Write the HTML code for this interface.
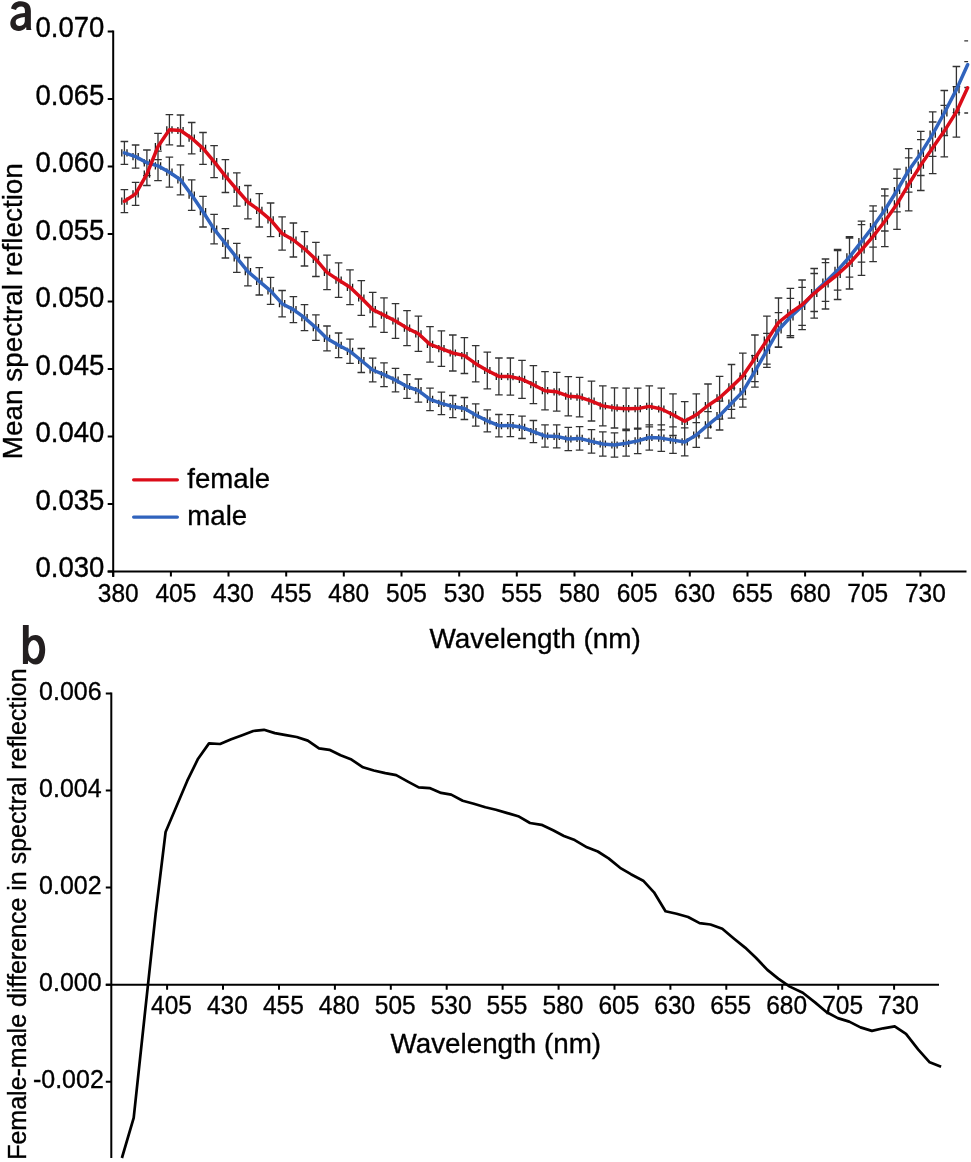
<!DOCTYPE html><html><head><meta charset="utf-8"><style>
html,body{margin:0;padding:0;background:#fff;width:971px;height:1162px;overflow:hidden}
svg{position:absolute;left:0;top:0;display:block;will-change:transform}
text{font-family:"Liberation Sans", sans-serif;fill:#000;stroke:#000;stroke-width:0.35px}
</style></head><body>
<svg width="971" height="1162" viewBox="0 0 971 1162">
<g stroke="#000" stroke-width="2" fill="none">
<path d="M113.2 30.5V577.1M107.7 571.6H966.5"/>
<path d="M107.7 31.5H113.2M107.7 99H113.2M107.7 166.5H113.2M107.7 234H113.2M107.7 301.6H113.2M107.7 369.1H113.2M107.7 436.6H113.2M107.7 504.1H113.2M107.7 571.6H113.2"/>
<path d="M113.2 571.6V576.6M170.9 571.6V576.6M228.5 571.6V576.6M286.2 571.6V576.6M343.8 571.6V576.6M401.5 571.6V576.6M459.2 571.6V576.6M516.8 571.6V576.6M574.5 571.6V576.6M632.1 571.6V576.6M689.8 571.6V576.6M747.5 571.6V576.6M805.1 571.6V576.6M862.8 571.6V576.6M920.4 571.6V576.6"/>
</g>
<text transform="translate(104.3 37.1) scale(1.0 1.045)" text-anchor="end" font-size="27.5">0.070</text>
<text transform="translate(104.3 104.6) scale(1.0 1.045)" text-anchor="end" font-size="27.5">0.065</text>
<text transform="translate(104.3 172.1) scale(1.0 1.045)" text-anchor="end" font-size="27.5">0.060</text>
<text transform="translate(104.3 239.6) scale(1.0 1.045)" text-anchor="end" font-size="27.5">0.055</text>
<text transform="translate(104.3 307.2) scale(1.0 1.045)" text-anchor="end" font-size="27.5">0.050</text>
<text transform="translate(104.3 374.7) scale(1.0 1.045)" text-anchor="end" font-size="27.5">0.045</text>
<text transform="translate(104.3 442.2) scale(1.0 1.045)" text-anchor="end" font-size="27.5">0.040</text>
<text transform="translate(104.3 509.7) scale(1.0 1.045)" text-anchor="end" font-size="27.5">0.035</text>
<text transform="translate(104.3 577.2) scale(1.0 1.045)" text-anchor="end" font-size="27.5">0.030</text>
<text transform="translate(118.2 601.5) scale(1.0 1.045)" text-anchor="middle" font-size="24.5">380</text>
<text transform="translate(175.9 601.5) scale(1.0 1.045)" text-anchor="middle" font-size="24.5">405</text>
<text transform="translate(233.5 601.5) scale(1.0 1.045)" text-anchor="middle" font-size="24.5">430</text>
<text transform="translate(291.2 601.5) scale(1.0 1.045)" text-anchor="middle" font-size="24.5">455</text>
<text transform="translate(348.8 601.5) scale(1.0 1.045)" text-anchor="middle" font-size="24.5">480</text>
<text transform="translate(406.5 601.5) scale(1.0 1.045)" text-anchor="middle" font-size="24.5">505</text>
<text transform="translate(464.2 601.5) scale(1.0 1.045)" text-anchor="middle" font-size="24.5">530</text>
<text transform="translate(521.8 601.5) scale(1.0 1.045)" text-anchor="middle" font-size="24.5">555</text>
<text transform="translate(579.5 601.5) scale(1.0 1.045)" text-anchor="middle" font-size="24.5">580</text>
<text transform="translate(637.1 601.5) scale(1.0 1.045)" text-anchor="middle" font-size="24.5">605</text>
<text transform="translate(694.8 601.5) scale(1.0 1.045)" text-anchor="middle" font-size="24.5">630</text>
<text transform="translate(752.5 601.5) scale(1.0 1.045)" text-anchor="middle" font-size="24.5">655</text>
<text transform="translate(810.1 601.5) scale(1.0 1.045)" text-anchor="middle" font-size="24.5">680</text>
<text transform="translate(867.8 601.5) scale(1.0 1.045)" text-anchor="middle" font-size="24.5">705</text>
<text transform="translate(925.4 601.5) scale(1.0 1.045)" text-anchor="middle" font-size="24.5">730</text>
<text transform="translate(535.2 647.8) scale(1 1)" text-anchor="middle" font-size="27.9">Wavelength (nm)</text>
<text transform="translate(22.0 311.2) rotate(-90) scale(1 1)" text-anchor="middle" font-size="27.9">Mean spectral reflection</text>
<path d="M133.6 479.8H177.4" stroke="#db0c18" stroke-width="3.2" stroke-linecap="round"/>
<path d="M133.6 517.1H177.4" stroke="#3063bd" stroke-width="3.2" stroke-linecap="round"/>
<text transform="translate(187.3 487.9) scale(1 1)" font-size="27.6">female</text>
<text transform="translate(187.3 525.2) scale(1 1)" font-size="27.6">male</text>
<path d="M124.4 189.7V212.7M120.6 189.7H128.2M120.6 212.7H128.2M124.4 141.5V164.3M120.6 141.5H128.2M120.6 164.3H128.2M135.6 182.4V205.4M131.8 182.4H139.4M131.8 205.4H139.4M135.6 145V168.2M131.8 145H139.4M131.8 168.2H139.4M146.9 162.9V185.5M143.1 162.9H150.7M143.1 185.5H150.7M146.9 150V175.6M143.1 150H150.7M143.1 175.6H150.7M158 133.3V159.7M154.2 133.3H161.8M154.2 159.7H161.8M158 151.2V180.6M154.2 151.2H161.8M154.2 180.6H161.8M169.4 114.7V144.9M165.6 114.7H173.2M165.6 144.9H173.2M169.4 157.2V187.2M165.6 157.2H173.2M165.6 187.2H173.2M180.5 115V146M176.7 115H184.3M176.7 146H184.3M180.5 164.8V194.8M176.7 164.8H184.3M176.7 194.8H184.3M191.7 122.5V153.9M187.9 122.5H195.5M187.9 153.9H195.5M191.7 179.8V210.4M187.9 179.8H195.5M187.9 210.4H195.5M203 132.5V164.3M199.2 132.5H206.8M199.2 164.3H206.8M203 196.4V227M199.2 196.4H206.8M199.2 227H206.8M214.1 145.7V177.7M210.3 145.7H217.9M210.3 177.7H217.9M214.1 214.4V243.8M210.3 214.4H217.9M210.3 243.8H217.9M225.4 159.7V192.5M221.6 159.7H229.2M221.6 192.5H229.2M225.4 228.6V258M221.6 228.6H229.2M221.6 258H229.2M236.8 172.8V206.2M233 172.8H240.6M233 206.2H240.6M236.8 243.3V272.3M233 243.3H240.6M233 272.3H240.6M247.9 185.5V218.9M244.1 185.5H251.7M244.1 218.9H251.7M247.9 257.5V285.9M244.1 257.5H251.7M244.1 285.9H251.7M259.3 193.6V227M255.5 193.6H263.1M255.5 227H263.1M259.3 267.6V295M255.5 267.6H263.1M255.5 295H263.1M270.6 203V236.6M266.8 203H274.4M266.8 236.6H274.4M270.6 277.3V304.3M266.8 277.3H274.4M266.8 304.3H274.4M282.1 216.8V250.2M278.3 216.8H285.9M278.3 250.2H285.9M282.1 290.5V316.9M278.3 290.5H285.9M278.3 316.9H285.9M293.4 223V257M289.6 223H297.2M289.6 257H297.2M293.4 296.6V322.6M289.6 296.6H297.2M289.6 322.6H297.2M304.5 231.6V266M300.7 231.6H308.3M300.7 266H308.3M304.5 304.7V330.7M300.7 304.7H308.3M300.7 330.7H308.3M315.9 242.3V276.5M312.1 242.3H319.7M312.1 276.5H319.7M315.9 314.8V340.4M312.1 314.8H319.7M312.1 340.4H319.7M327 255.2V289.6M323.2 255.2H330.8M323.2 289.6H330.8M327 326V350.8M323.2 326H330.8M323.2 350.8H330.8M338.6 262.9V297.3M334.8 262.9H342.4M334.8 297.3H342.4M338.6 333V357.6M334.8 333H342.4M334.8 357.6H342.4M350 269.9V304.7M346.2 269.9H353.8M346.2 304.7H353.8M350 339.2V363.4M346.2 339.2H353.8M346.2 363.4H353.8M361.3 280.7V315.3M357.5 280.7H365.1M357.5 315.3H365.1M361.3 348.5V372.5M357.5 348.5H365.1M357.5 372.5H365.1M372.7 292.4V326.8M368.9 292.4H376.5M368.9 326.8H376.5M372.7 358.2V381.8M368.9 358.2H376.5M368.9 381.8H376.5M384 297.8V332.4M380.2 297.8H387.8M380.2 332.4H387.8M384 362.8V386.6M380.2 362.8H387.8M380.2 386.6H387.8M395.5 303.6V338.4M391.7 303.6H399.3M391.7 338.4H399.3M395.5 368.4V391.8M391.7 368.4H399.3M391.7 391.8H399.3M407 310.6V345.6M403.2 310.6H410.8M403.2 345.6H410.8M407 374.7V398.3M403.2 374.7H410.8M403.2 398.3H410.8M418.4 316.2V351.4M414.6 316.2H422.2M414.6 351.4H422.2M418.4 379V402.2M414.6 379H422.2M414.6 402.2H422.2M430 326.6V362.2M426.2 326.6H433.8M426.2 362.2H433.8M430 388.1V410.7M426.2 388.1H433.8M426.2 410.7H433.8M441.4 330.8V366.4M437.6 330.8H445.2M437.6 366.4H445.2M441.4 392.2V414.6M437.6 392.2H445.2M437.6 414.6H445.2M452.8 335V371M449 335H456.6M449 371H456.6M452.8 395.5V417.7M449 395.5H456.6M449 417.7H456.6M464.4 337.7V373.5M460.6 337.7H468.2M460.6 373.5H468.2M464.4 397.5V419.5M460.6 397.5H468.2M460.6 419.5H468.2M475.7 345.6V381.8M471.9 345.6H479.5M471.9 381.8H479.5M475.7 403.8V426.2M471.9 403.8H479.5M471.9 426.2H479.5M487.3 352.1V388.9M483.5 352.1H491.1M483.5 388.9H491.1M487.3 409.9V431.9M483.5 409.9H491.1M483.5 431.9H491.1M498.9 358V394.8M495.1 358H502.7M495.1 394.8H502.7M498.9 414.5V436.9M495.1 414.5H502.7M495.1 436.9H502.7M510.4 358V395.2M506.6 358H514.2M506.6 395.2H514.2M510.4 414.6V436.6M506.6 414.6H514.2M506.6 436.6H514.2M522 360.3V398.3M518.2 360.3H525.8M518.2 398.3H525.8M522 416.1V438.5M518.2 416.1H525.8M518.2 438.5H525.8M533.4 365.7V403.7M529.6 365.7H537.2M529.6 403.7H537.2M533.4 420.5V442.7M529.6 420.5H537.2M529.6 442.7H537.2M545 371.6V409.8M541.2 371.6H548.8M541.2 409.8H548.8M545 424.9V447.1M541.2 424.9H548.8M541.2 447.1H548.8M556.7 372.4V411.2M552.9 372.4H560.5M552.9 411.2H560.5M556.7 424.9V447.9M552.9 424.9H560.5M552.9 447.9H560.5M568.3 376.6V415.8M564.5 376.6H572.1M564.5 415.8H572.1M568.3 427.4V450.6M564.5 427.4H572.1M564.5 450.6H572.1M579.6 377.3V416.9M575.8 377.3H583.4M575.8 416.9H583.4M579.6 426.6V450.2M575.8 426.6H583.4M575.8 450.2H583.4M591.5 381.2V421M587.7 381.2H595.3M587.7 421H595.3M591.5 429.6V453.2M587.7 429.6H595.3M587.7 453.2H595.3M602.8 385.9V425.9M599 385.9H606.6M599 425.9H606.6M602.8 431.9V456.1M599 431.9H606.6M599 456.1H606.6M614.5 387.8V428M610.7 387.8H618.3M610.7 428H618.3M614.5 432.8V457.2M610.7 432.8H618.3M610.7 457.2H618.3M626.1 388.2V429.2M622.3 388.2H629.9M622.3 429.2H629.9M626.1 430.5V456.1M622.3 430.5H629.9M622.3 456.1H629.9M637.7 388.2V429M633.9 388.2H641.5M633.9 429H641.5M637.7 428.2V453.6M633.9 428.2H641.5M633.9 453.6H641.5M649.3 385.9V426.9M645.5 385.9H653.1M645.5 426.9H653.1M649.3 424.8V450.2M645.5 424.8H653.1M645.5 450.2H653.1M661.3 388.2V429.8M657.5 388.2H665.1M657.5 429.8H665.1M661.3 424.8V451.4M657.5 424.8H665.1M657.5 451.4H665.1M673 393.9V435.5M669.2 393.9H676.8M669.2 435.5H676.8M673 426.9V453.3M669.2 426.9H676.8M669.2 453.3H676.8M684.7 401.6V441M680.9 401.6H688.5M680.9 441H688.5M684.7 427.9V455.9M680.9 427.9H688.5M680.9 455.9H688.5M696.3 393.8V435.8M692.5 393.8H700.1M692.5 435.8H700.1M696.3 422.6V447.4M692.5 422.6H700.1M692.5 447.4H700.1M708 384V427M704.2 384H711.8M704.2 427H711.8M708 411.7V438.1M704.2 411.7H711.8M704.2 438.1H711.8M719.6 376.4V419.2M715.8 376.4H723.4M715.8 419.2H723.4M719.6 401.2V430M715.8 401.2H723.4M715.8 430H723.4M731.5 364.5V409.3M727.7 364.5H735.3M727.7 409.3H735.3M731.5 388.2V418.2M727.7 388.2H735.3M727.7 418.2H735.3M742.8 353.1V399.1M739 353.1H746.6M739 399.1H746.6M742.8 376.1V407.1M739 376.1H746.6M739 407.1H746.6M754.9 335V381.6M751.1 335H758.7M751.1 381.6H758.7M754.9 355.6V387.2M751.1 355.6H758.7M751.1 387.2H758.7M766.9 316.2V364.2M763.1 316.2H770.7M763.1 364.2H770.7M766.9 333.3V367.3M763.1 333.3H770.7M763.1 367.3H770.7M778.5 298V347M774.7 298H782.3M774.7 347H782.3M778.5 312.7V347.3M774.7 312.7H782.3M774.7 347.3H782.3M790.4 288.3V337.5M786.6 288.3H794.2M786.6 337.5H794.2M790.4 298.4V335.6M786.6 298.4H794.2M786.6 335.6H794.2M802.1 280V329.6M798.3 280H805.9M798.3 329.6H805.9M802.1 287.3V325.3M798.3 287.3H805.9M798.3 325.3H805.9M814.2 268.5V318.1M810.4 268.5H818M810.4 318.1H818M814.2 273.5V311.5M810.4 273.5H818M810.4 311.5H818M825.5 259V309M821.7 259H829.3M821.7 309H829.3M825.5 262.6V301.4M821.7 262.6H829.3M821.7 301.4H829.3M837.6 249.5V299.5M833.8 249.5H841.4M833.8 299.5H841.4M837.6 250.5V290.1M833.8 250.5H841.4M833.8 290.1H841.4M849.5 238V289M845.7 238H853.3M845.7 289H853.3M849.5 236.7V277.1M845.7 236.7H853.3M845.7 277.1H853.3M861.5 224.7V275.3M857.7 224.7H865.3M857.7 275.3H865.3M861.5 221.1V262.1M857.7 221.1H865.3M857.7 262.1H865.3M873.1 211.1V261.7M869.3 211.1H876.9M869.3 261.7H876.9M873.1 205.8V247.2M869.3 205.8H876.9M869.3 247.2H876.9M884.8 195.8V246.6M881 195.8H888.6M881 246.6H888.6M884.8 189V231M881 189H888.6M881 231H888.6M897 178.4V229.4M893.2 178.4H900.8M893.2 229.4H900.8M897 169.2V211.8M893.2 169.2H900.8M893.2 211.8H900.8M908.7 157.8V210.8M904.9 157.8H912.5M904.9 210.8H912.5M908.7 148.7V192.1M904.9 148.7H912.5M904.9 192.1H912.5M920.8 139.7V190.5M917 139.7H924.6M917 190.5H924.6M920.8 131.3V175.5M917 131.3H924.6M917 175.5H924.6M932.7 122V173.6M928.9 122H936.5M928.9 173.6H936.5M932.7 111.8V156.4M928.9 111.8H936.5M928.9 156.4H936.5M944.3 105.3V156.9M940.5 105.3H948.1M940.5 156.9H948.1M944.3 90.5V135.5M940.5 90.5H948.1M940.5 135.5H948.1M956.4 86.7V137.1M952.6 86.7H960.2M952.6 137.1H960.2M956.4 66.5V112.7M952.6 66.5H960.2M952.6 112.7H960.2M964.3 61.6H968.1M964.3 113H968.1M964.3 40.9H968.1M964.3 87.5H968.1" stroke="#333" stroke-width="1.3" fill="none"/>
<path d="M121.8 197.6V204.8M127 197.6V204.8M121.8 149.3V156.5M127 149.3V156.5M133 190.3V197.5M138.2 190.3V197.5M133 153V160.2M138.2 153V160.2M144.3 170.6V177.8M149.5 170.6V177.8M144.3 159.2V166.4M149.5 159.2V166.4M155.4 142.9V150.1M160.6 142.9V150.1M155.4 162.3V169.5M160.6 162.3V169.5M166.8 126.2V133.4M172 126.2V133.4M166.8 168.6V175.8M172 168.6V175.8M177.9 126.9V134.1M183.1 126.9V134.1M177.9 176.2V183.4M183.1 176.2V183.4M189.1 134.6V141.8M194.3 134.6V141.8M189.1 191.5V198.7M194.3 191.5V198.7M200.4 144.8V152M205.6 144.8V152M200.4 208.1V215.3M205.6 208.1V215.3M211.5 158.1V165.3M216.7 158.1V165.3M211.5 225.5V232.7M216.7 225.5V232.7M222.8 172.5V179.7M228 172.5V179.7M222.8 239.7V246.9M228 239.7V246.9M234.2 185.9V193.1M239.4 185.9V193.1M234.2 254.2V261.4M239.4 254.2V261.4M245.3 198.6V205.8M250.5 198.6V205.8M245.3 268.1V275.3M250.5 268.1V275.3M256.7 206.7V213.9M261.9 206.7V213.9M256.7 277.7V284.9M261.9 277.7V284.9M268 216.2V223.4M273.2 216.2V223.4M268 287.2V294.4M273.2 287.2V294.4M279.5 229.9V237.1M284.7 229.9V237.1M279.5 300.1V307.3M284.7 300.1V307.3M290.8 236.4V243.6M296 236.4V243.6M290.8 306V313.2M296 306V313.2M301.9 245.2V252.4M307.1 245.2V252.4M301.9 314.1V321.3M307.1 314.1V321.3M313.3 255.8V263M318.5 255.8V263M313.3 324V331.2M318.5 324V331.2M324.4 268.8V276M329.6 268.8V276M324.4 334.8V342M329.6 334.8V342M336 276.5V283.7M341.2 276.5V283.7M336 341.7V348.9M341.2 341.7V348.9M347.4 283.7V290.9M352.6 283.7V290.9M347.4 347.7V354.9M352.6 347.7V354.9M358.7 294.4V301.6M363.9 294.4V301.6M358.7 356.9V364.1M363.9 356.9V364.1M370.1 306V313.2M375.3 306V313.2M370.1 366.4V373.6M375.3 366.4V373.6M381.4 311.5V318.7M386.6 311.5V318.7M381.4 371.1V378.3M386.6 371.1V378.3M392.9 317.4V324.6M398.1 317.4V324.6M392.9 376.5V383.7M398.1 376.5V383.7M404.4 324.5V331.7M409.6 324.5V331.7M404.4 382.9V390.1M409.6 382.9V390.1M415.8 330.2V337.4M421 330.2V337.4M415.8 387V394.2M421 387V394.2M427.4 340.8V348M432.6 340.8V348M427.4 395.8V403M432.6 395.8V403M438.8 345V352.2M444 345V352.2M438.8 399.8V407M444 399.8V407M450.2 349.4V356.6M455.4 349.4V356.6M450.2 403V410.2M455.4 403V410.2M461.8 352V359.2M467 352V359.2M461.8 404.9V412.1M467 404.9V412.1M473.1 360.1V367.3M478.3 360.1V367.3M473.1 411.4V418.6M478.3 411.4V418.6M484.7 366.9V374.1M489.9 366.9V374.1M484.7 417.3V424.5M489.9 417.3V424.5M496.3 372.8V380M501.5 372.8V380M496.3 422.1V429.3M501.5 422.1V429.3M507.8 373V380.2M513 373V380.2M507.8 422V429.2M513 422V429.2M519.4 375.7V382.9M524.6 375.7V382.9M519.4 423.7V430.9M524.6 423.7V430.9M530.8 381.1V388.3M536 381.1V388.3M530.8 428V435.2M536 428V435.2M542.4 387.1V394.3M547.6 387.1V394.3M542.4 432.4V439.6M547.6 432.4V439.6M554.1 388.2V395.4M559.3 388.2V395.4M554.1 432.8V440M559.3 432.8V440M565.7 392.6V399.8M570.9 392.6V399.8M565.7 435.4V442.6M570.9 435.4V442.6M577 393.5V400.7M582.2 393.5V400.7M577 434.8V442M582.2 434.8V442M588.9 397.5V404.7M594.1 397.5V404.7M588.9 437.8V445M594.1 437.8V445M600.2 402.3V409.5M605.4 402.3V409.5M600.2 440.4V447.6M605.4 440.4V447.6M611.9 404.3V411.5M617.1 404.3V411.5M611.9 441.4V448.6M617.1 441.4V448.6M623.5 405.1V412.3M628.7 405.1V412.3M623.5 439.7V446.9M628.7 439.7V446.9M635.1 405V412.2M640.3 405V412.2M635.1 437.3V444.5M640.3 437.3V444.5M646.7 402.8V410M651.9 402.8V410M646.7 433.9V441.1M651.9 433.9V441.1M658.7 405.4V412.6M663.9 405.4V412.6M658.7 434.5V441.7M663.9 434.5V441.7M670.4 411.1V418.3M675.6 411.1V418.3M670.4 436.5V443.7M675.6 436.5V443.7M682.1 417.7V424.9M687.3 417.7V424.9M682.1 438.3V445.5M687.3 438.3V445.5M693.7 411.2V418.4M698.9 411.2V418.4M693.7 431.4V438.6M698.9 431.4V438.6M705.4 401.9V409.1M710.6 401.9V409.1M705.4 421.3V428.5M710.6 421.3V428.5M717 394.2V401.4M722.2 394.2V401.4M717 412V419.2M722.2 412V419.2M728.9 383.3V390.5M734.1 383.3V390.5M728.9 399.6V406.8M734.1 399.6V406.8M740.2 372.5V379.7M745.4 372.5V379.7M740.2 388V395.2M745.4 388V395.2M752.3 354.7V361.9M757.5 354.7V361.9M752.3 367.8V375M757.5 367.8V375M764.3 336.6V343.8M769.5 336.6V343.8M764.3 346.7V353.9M769.5 346.7V353.9M775.9 318.9V326.1M781.1 318.9V326.1M775.9 326.4V333.6M781.1 326.4V333.6M787.8 309.3V316.5M793 309.3V316.5M787.8 313.4V320.6M793 313.4V320.6M799.5 301.2V308.4M804.7 301.2V308.4M799.5 302.7V309.9M804.7 302.7V309.9M811.6 289.7V296.9M816.8 289.7V296.9M811.6 288.9V296.1M816.8 288.9V296.1M822.9 280.4V287.6M828.1 280.4V287.6M822.9 278.4V285.6M828.1 278.4V285.6M835 270.9V278.1M840.2 270.9V278.1M835 266.7V273.9M840.2 266.7V273.9M846.9 259.9V267.1M852.1 259.9V267.1M846.9 253.3V260.5M852.1 253.3V260.5M858.9 246.4V253.6M864.1 246.4V253.6M858.9 238V245.2M864.1 238V245.2M870.5 232.8V240M875.7 232.8V240M870.5 222.9V230.1M875.7 222.9V230.1M882.2 217.6V224.8M887.4 217.6V224.8M882.2 206.4V213.6M887.4 206.4V213.6M894.4 200.3V207.5M899.6 200.3V207.5M894.4 186.9V194.1M899.6 186.9V194.1M906.1 180.7V187.9M911.3 180.7V187.9M906.1 166.8V174M911.3 166.8V174M918.2 161.5V168.7M923.4 161.5V168.7M918.2 149.8V157M923.4 149.8V157M930.1 144.2V151.4M935.3 144.2V151.4M930.1 130.5V137.7M935.3 130.5V137.7M941.7 127.5V134.7M946.9 127.5V134.7M941.7 109.4V116.6M946.9 109.4V116.6M953.8 108.3V115.5M959 108.3V115.5M953.8 86V93.2M959 86V93.2" stroke="#1a1a1a" stroke-width="1.3" fill="none"/>
<path d="M124.4 152.9 L135.6 156.6 L146.9 162.8 L158 165.9 L169.4 172.2 L180.5 179.8 L191.7 195.1 L203 211.7 L214.1 229.1 L225.4 243.3 L236.8 257.8 L247.9 271.7 L259.3 281.3 L270.6 290.8 L282.1 303.7 L293.4 309.6 L304.5 317.7 L315.9 327.6 L327 338.4 L338.6 345.3 L350 351.3 L361.3 360.5 L372.7 370 L384 374.7 L395.5 380.1 L407 386.5 L418.4 390.6 L430 399.4 L441.4 403.4 L452.8 406.6 L464.4 408.5 L475.7 415 L487.3 420.9 L498.9 425.7 L510.4 425.6 L522 427.3 L533.4 431.6 L545 436 L556.7 436.4 L568.3 439 L579.6 438.4 L591.5 441.4 L602.8 444 L614.5 445 L626.1 443.3 L637.7 440.9 L649.3 437.5 L661.3 438.1 L673 440.1 L684.7 441.9 L696.3 435 L708 424.9 L719.6 415.6 L731.5 403.2 L742.8 391.6 L754.9 371.4 L766.9 350.3 L778.5 330 L790.4 317 L802.1 306.3 L814.2 292.5 L825.5 282 L837.6 270.3 L849.5 256.9 L861.5 241.6 L873.1 226.5 L884.8 210 L897 190.5 L908.7 170.4 L920.8 153.4 L932.7 134.1 L944.3 113 L956.4 89.6 L967.6 64.7" stroke="#3063bd" stroke-width="3.5" fill="none" stroke-linejoin="round" stroke-linecap="round"/>
<path d="M124.4 201.2 L135.6 193.9 L146.9 174.2 L158 146.5 L169.4 129.8 L180.5 130.5 L191.7 138.2 L203 148.4 L214.1 161.7 L225.4 176.1 L236.8 189.5 L247.9 202.2 L259.3 210.3 L270.6 219.8 L282.1 233.5 L293.4 240 L304.5 248.8 L315.9 259.4 L327 272.4 L338.6 280.1 L350 287.3 L361.3 298 L372.7 309.6 L384 315.1 L395.5 321 L407 328.1 L418.4 333.8 L430 344.4 L441.4 348.6 L452.8 353 L464.4 355.6 L475.7 363.7 L487.3 370.5 L498.9 376.4 L510.4 376.6 L522 379.3 L533.4 384.7 L545 390.7 L556.7 391.8 L568.3 396.2 L579.6 397.1 L591.5 401.1 L602.8 405.9 L614.5 407.9 L626.1 408.7 L637.7 408.6 L649.3 406.4 L661.3 409 L673 414.7 L684.7 421.3 L696.3 414.8 L708 405.5 L719.6 397.8 L731.5 386.9 L742.8 376.1 L754.9 358.3 L766.9 340.2 L778.5 322.5 L790.4 312.9 L802.1 304.8 L814.2 293.3 L825.5 284 L837.6 274.5 L849.5 263.5 L861.5 250 L873.1 236.4 L884.8 221.2 L897 203.9 L908.7 184.3 L920.8 165.1 L932.7 147.8 L944.3 131.1 L956.4 111.9 L967.6 87.8" stroke="#db0c18" stroke-width="3.5" fill="none" stroke-linejoin="round" stroke-linecap="round"/>
<g stroke="#000" stroke-width="2" fill="none">
<path d="M111.3 692.4V1158M105.8 984.7H939"/>
<path d="M105.8 693.4H111.3M105.8 790.5H111.3M105.8 887.6H111.3M105.8 984.7H111.3M105.8 1081.8H111.3"/>
<path d="M167.1 984.7V989.7M223 984.7V989.7M279 984.7V989.7M334.9 984.7V989.7M390.8 984.7V989.7M446.7 984.7V989.7M502.6 984.7V989.7M558.6 984.7V989.7M614.5 984.7V989.7M670.4 984.7V989.7M726.3 984.7V989.7M782.2 984.7V989.7M838.2 984.7V989.7M894.1 984.7V989.7"/>
</g>
<text transform="translate(101.6 699.7) scale(1.0 1.045)" text-anchor="end" font-size="25">0.006</text>
<text transform="translate(101.6 796.8) scale(1.0 1.045)" text-anchor="end" font-size="25">0.004</text>
<text transform="translate(101.6 893.9) scale(1.0 1.045)" text-anchor="end" font-size="25">0.002</text>
<text transform="translate(101.6 991) scale(1.0 1.045)" text-anchor="end" font-size="25">0.000</text>
<text transform="translate(103.8 1088.1) scale(1.0 1.045)" text-anchor="end" font-size="25">-0.002</text>
<text transform="translate(171.5 1013.8) scale(1.0 1.045)" text-anchor="middle" font-size="24.5">405</text>
<text transform="translate(227.4 1013.8) scale(1.0 1.045)" text-anchor="middle" font-size="24.5">430</text>
<text transform="translate(283.4 1013.8) scale(1.0 1.045)" text-anchor="middle" font-size="24.5">455</text>
<text transform="translate(339.3 1013.8) scale(1.0 1.045)" text-anchor="middle" font-size="24.5">480</text>
<text transform="translate(395.2 1013.8) scale(1.0 1.045)" text-anchor="middle" font-size="24.5">505</text>
<text transform="translate(451.1 1013.8) scale(1.0 1.045)" text-anchor="middle" font-size="24.5">530</text>
<text transform="translate(507 1013.8) scale(1.0 1.045)" text-anchor="middle" font-size="24.5">555</text>
<text transform="translate(563 1013.8) scale(1.0 1.045)" text-anchor="middle" font-size="24.5">580</text>
<text transform="translate(618.9 1013.8) scale(1.0 1.045)" text-anchor="middle" font-size="24.5">605</text>
<text transform="translate(674.8 1013.8) scale(1.0 1.045)" text-anchor="middle" font-size="24.5">630</text>
<text transform="translate(730.7 1013.8) scale(1.0 1.045)" text-anchor="middle" font-size="24.5">655</text>
<text transform="translate(786.6 1013.8) scale(1.0 1.045)" text-anchor="middle" font-size="24.5">680</text>
<text transform="translate(842.6 1013.8) scale(1.0 1.045)" text-anchor="middle" font-size="24.5">705</text>
<text transform="translate(898.5 1013.8) scale(1.0 1.045)" text-anchor="middle" font-size="24.5">730</text>
<text transform="translate(495.8 1053.4) scale(1 1)" text-anchor="middle" font-size="27.8">Wavelength (nm)</text>
<text transform="translate(25.6 914.1) rotate(-90) scale(1 1)" text-anchor="middle" font-size="25">Female-male difference in spectral reflection</text>
<path d="M121.9 1158 L133.7 1117.8 L144.3 1019 L155.6 914.1 L165.6 832 L176.4 806.5 L187.3 780.7 L198.1 758.7 L209 743.4 L220.1 744 L231.2 739.3 L242.2 735.3 L253.3 731 L264 729.8 L274.9 733.1 L285.9 735.1 L296.7 737 L307.8 740.6 L319 748.4 L329.4 749.8 L340.6 755.3 L351.5 759.6 L363 767.3 L373.8 770.5 L385.3 773.1 L396.2 775.1 L407.9 781.6 L418.7 787.4 L429.6 788.1 L441.1 792.9 L451.2 794.6 L462.7 800.7 L473.8 803.7 L485.4 807.3 L495.9 809.7 L507.4 813.1 L518.2 816.2 L530 823 L541.5 824.8 L553.1 830.3 L563.9 836 L574.7 840.1 L587 847.3 L597.8 851.5 L608.6 858.4 L620.1 867.8 L630.9 874.2 L643.2 880.7 L654 892.3 L665.5 911.3 L676.6 913.7 L688.1 917 L699.6 923.1 L710.5 924.5 L722.3 928.8 L733.5 938.2 L745.1 947.6 L755.9 957.7 L767.4 969.9 L778.2 978.6 L789.8 986.6 L802.8 992.8 L815 1002.4 L826.4 1012 L837.8 1018.1 L849.2 1021.6 L860.5 1027.4 L871.9 1030.9 L883.3 1028.3 L894.7 1026.4 L906 1033.9 L918.3 1049.7 L929.7 1062.3 L941.1 1066.8" stroke="#000" stroke-width="2.7" fill="none" stroke-linejoin="round"/>
<path fill="#231f20" fill-rule="evenodd" d="M11.03 8.54L15.99 9.92C16.5 8 18.5 6.5 21.2 6.5C23.6 6.5 24.9 7.8 24.9 10.4L24.94 12.95C19 13.6 14 14.8 11.8 18.4C10.6 20.2 10.3 22 10.3 23.6C10.3 27.8 13.5 31 18.6 31C21.4 31 24.2 29.8 25.9 27.3L26.3 27.6L26.3 30.03L31.55 30.03C31 28.8 30.87 27.8 30.87 26L30.87 11C30.87 4.8 27.2 1.35 20.6 1.35C15.6 1.35 12.2 3.8 11.03 8.54ZM24.8 17.1C20 17.6 15.7 18.6 15.7 22.2C15.7 24.4 17.2 25.9 19.6 25.9C22.7 25.9 24.8 23.8 24.8 20.8Z"/>
<path fill="#231f20" fill-rule="evenodd" d="M22.9 625.1H28.7V638.3C30.2 636 32.8 635 35.6 635C41.5 635 45.2 641 45.2 649.5C45.2 658.5 41.4 664.5 35.8 664.5C32.4 664.2 29.8 662.6 28.2 660.4L27.9 663.9H22.9ZM28.13 649.5A5.62 9.49 0 1 0 39.37 649.5A5.62 9.49 0 1 0 28.13 649.5Z"/>
</svg></body></html>
